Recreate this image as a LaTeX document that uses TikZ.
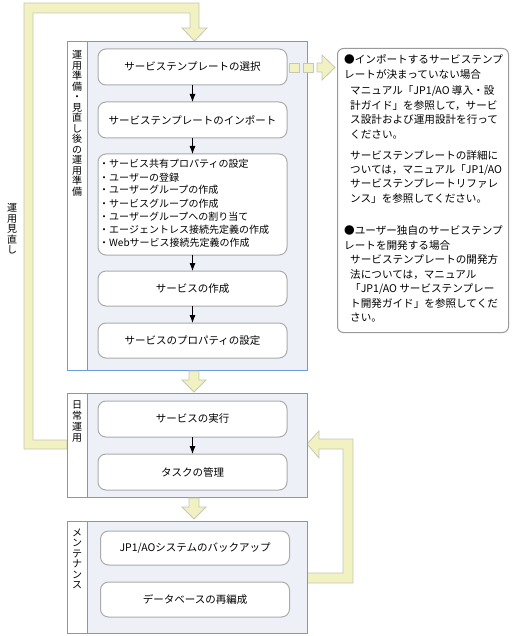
\documentclass[tikz,border=0pt]{standalone}
\usepackage{fontspec}
\setmainfont{Noto Sans CJK JP}
\usetikzlibrary{arrows.meta}
\definecolor{secfill}{HTML}{EDF1F7}
\definecolor{secline}{HTML}{6E9BDE}
\definecolor{boxline}{HTML}{ABABAB}
\definecolor{arrfill}{HTML}{F1F1C2}
\definecolor{arrline}{HTML}{C6C6B8}
\definecolor{noteline}{HTML}{9A9A9A}
\begin{document}
\begin{tikzpicture}[x=1pt,y=-1pt,
  section/.style={draw=secline,fill=secfill,line width=0.9pt,minimum width=240pt,anchor=north west,inner sep=0pt,outer sep=0pt},
  labelcol/.style={draw=secline,fill=white,line width=0.9pt,minimum width=20pt,anchor=north west,inner sep=0pt,outer sep=0pt},
  stepbox/.style={draw=boxline,fill=white,rounded corners=8pt,line width=1pt,minimum width=189pt,inner sep=0pt,outer sep=0pt,font=\fontsize{10.5}{13}\selectfont},
  vlabel/.style={font=\fontsize{10}{10.5}\selectfont,align=center,inner sep=0pt},
  flow/.style={-{Latex[length=8pt,width=6pt]},line width=0.8pt},
  bigarrow/.style={fill=arrfill,draw=arrline,line width=0.8pt},
  notetext/.style={font=\fontsize{10.6}{14.5}\selectfont,align=left,inner sep=0pt,anchor=base west},
  listtext/.style={font=\fontsize{10}{13}\selectfont,align=left,inner sep=0pt,anchor=base west}]
\useasboundingbox (0,0) rectangle (511,636);

% loop bands (behind sections)
\draw[bigarrow] (67,449) -- (24,449) -- (24,3) -- (199,3) -- (199,28) -- (207,28) -- (194.5,41) -- (182,28) -- (190,28) -- (190,13) -- (33,13) -- (33,440) -- (67,440) -- cycle;
\draw[bigarrow] (307,573) -- (343,573) -- (343,449) -- (319,449) -- (319,458) -- (307,444) -- (319,431) -- (319,439) -- (353,439) -- (353,583) -- (307,583) -- cycle;
\node[vlabel] (labloop) at (12,229) {運\\用\\見\\直\\し};

% section 1
\node[section,minimum height=329pt] (sec1) at (67,41) {};
\node[labelcol,minimum height=329pt] (sec1lab) at (67,41) {};
\node[vlabel] (lab1) at (77,123.5) {運\\用\\準\\備\\・\\見\\直\\し\\後\\の\\運\\用\\準\\備};
\node[stepbox,minimum height=36pt] (b1) at (192.5,67) {サービステンプレートの選択};
\node[stepbox,minimum height=36pt] (b2) at (192.5,120) {サービステンプレートのインポート};
\node[stepbox,minimum height=101pt] (b3) at (192.5,204.5) {};
\node[listtext] (b3t) at (99,246) {・サービス共有プロパティの設定\\・ユーザーの登録\\・ユーザーグループの作成\\・サービスグループの作成\\・ユーザーグループへの割り当て\\・エージェントレス接続先定義の作成\\・Webサービス接続先定義の作成};
\node[stepbox,minimum height=35pt] (b4) at (192.5,288.5) {サービスの作成};
\node[stepbox,minimum height=35pt] (b5) at (192.5,340.5) {サービスのプロパティの設定};
\draw[flow] (b1.south) -- (b2.north);
\draw[flow] (b2.south) -- (b3.north);
\draw[flow] (b3.south) -- (b4.north);
\draw[flow] (b4.south) -- (b5.north);

% section 2
\node[section,minimum height=104pt] (sec2) at (67,393) {};
\node[labelcol,minimum height=104pt] (sec2lab) at (67,393) {};
\node[vlabel,font=\fontsize{10}{11}\selectfont] (lab2) at (77,421.5) {日\\常\\運\\用};
\node[stepbox,minimum height=36pt] (c1) at (192.5,419) {サービスの実行};
\node[stepbox,minimum height=36pt] (c2) at (192.5,472) {タスクの管理};
\draw[flow] (c1.south) -- (c2.north);

% section 3
\node[section,minimum height=112pt] (sec3) at (67,521) {};
\node[labelcol,minimum height=112pt] (sec3lab) at (67,521) {};
\node[vlabel] (lab3) at (77,559) {メ\\ン\\テ\\ナ\\ン\\ス};
\node[stepbox,minimum height=34pt] (d1) at (195,548) {JP1/AOシステムのバックアップ};
\node[stepbox,minimum height=35pt] (d2) at (195,599.5) {データベースの再編成};

% block arrows between sections
\draw[bigarrow] (189,371) -- (199,371) -- (199,380) -- (206,380) -- (194,392) -- (182,380) -- (189,380) -- cycle;
\draw[bigarrow] (189,498) -- (199,498) -- (199,507) -- (206,507) -- (194,519) -- (182,507) -- (189,507) -- cycle;

% dashed arrow to note
\draw[bigarrow] (289,63) rectangle (299,72);
\draw[bigarrow] (303,63) rectangle (313,72);
\draw[bigarrow] (317,63) -- (322,63) -- (322,55) -- (335,67.5) -- (322,80) -- (322,72) -- (317,72) -- cycle;

% note
\node[draw=noteline,fill=white,rounded corners=6pt,line width=1pt,minimum width=171pt,minimum height=284pt,anchor=north west,inner sep=0pt] (note) at (337,48) {};
\node[notetext] (h1) at (344,78.5) {●インポートするサービステンプ\\レートが決まっていない場合};
\node[notetext] (p1) at (350,138.5) {マニュアル「JP1/AO 導入・設\\計ガイド」を参照して，サービ\\ス設計および運用設計を行って\\ください。};
\node[notetext] (p2) at (350,202.5) {サービステンプレートの詳細に\\ついては，マニュアル「JP1/AO\\サービステンプレートリファレ\\ンス」を参照してください。};
\node[notetext] (h2) at (344,249) {●ユーザー独自のサービステンプ\\レートを開発する場合};
\node[notetext] (p3) at (350,321.5) {サービステンプレートの開発方\\法については，マニュアル\\「JP1/AO サービステンプレー\\ト開発ガイド」を参照してくだ\\さい。};
\end{tikzpicture}
\end{document}
